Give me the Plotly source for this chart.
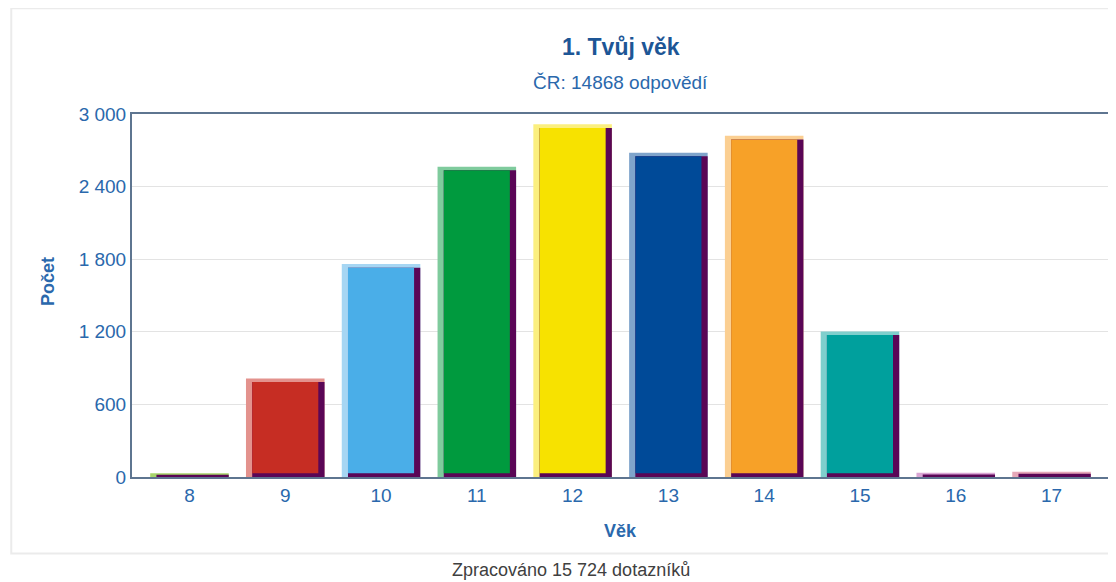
import numpy as np
import plotly.graph_objects as go

# data
ages = ["8", "9", "10", "11", "12", "13", "14", "15", "16", "17"]
counts = [30, 815, 1760, 2565, 2915, 2680, 2820, 1203, 36, 44]

main_colors = ["#7DBB2E", "#C62D23", "#4AAEE8", "#009A3E", "#F7E200",
               "#004A98", "#F7A128", "#00A09D", "#7A1070", "#6E0F3E"]
light_colors = ["#A6D46A", "#E3928D", "#A6D6F3", "#7FCB9D", "#FBEF7F",
                "#7FA4CB", "#FBCF92", "#7FCFCD", "#D9A6D4", "#E5A8B8"]
SHADE = "#5A0656"

title = "1. Tvůj věk"
subtitle = "ČR: 14868 odpovědí"
footer = "Zpracováno 15 724 dotazníků"

FONT = "Liberation Sans, Arial, sans-serif"
BLUE = "#2A68AC"

# 3D-ish bar edges (bar width in categories, edges in data units)
W = 0.82
SIDE = 0.065
TOP = 30
BOTTOM = 30

vals = np.array(counts, dtype=float)
shade_h = np.maximum(vals - TOP, vals * 0.6)
main_h = np.clip(vals - TOP - BOTTOM, 0, None)

fig = go.Figure()
# light highlight (left/top edge)
fig.add_bar(x=ages, y=vals, width=W, offset=-W / 2,
            marker_color=light_colors, marker_line_width=0, hoverinfo="skip")
# dark shade (right/bottom edge)
fig.add_bar(x=ages, y=shade_h, width=W - SIDE, offset=-W / 2 + SIDE,
            marker_color=SHADE, marker_line_width=0, hoverinfo="skip")
# main face
fig.add_bar(x=ages, y=main_h, base=BOTTOM, width=W - 2 * SIDE,
            offset=-W / 2 + SIDE, marker_color=main_colors,
            marker_line_width=0, customdata=counts,
            hovertemplate="%{x}: %{customdata}<extra></extra>")


def note(text, x, y, size, color, **kw):
    return dict(text=text, x=x, y=y, xref="paper", yref="paper",
                xanchor="center", yanchor="middle", showarrow=False,
                font=dict(size=size, color=color), **kw)


annotations = [
    note(f"<b>{title}</b>", 0.5, 1.185, 23, "#1D5696"),
    note(subtitle, 0.5, 1.087, 19, BLUE),
    note("<b>Počet</b>", -0.086, 0.54, 18, BLUE, textangle=-90),
    note("<b>Věk</b>", 0.5, -0.15, 18, BLUE),
    note(footer, 0.4494, -0.255, 18, "#404040"),
]

# page body has an 8px margin, so the figure is 8px smaller than the window
fig.update_layout(
    width=1108,
    height=574,
    margin=dict(l=124, r=5, t=106, b=105),
    barmode="overlay",
    showlegend=False,
    paper_bgcolor="white",
    plot_bgcolor="white",
    separators=", ",
    font=dict(family=FONT, size=19, color=BLUE),
    annotations=annotations,
    shapes=[dict(type="rect", xref="paper", yref="paper",
                 x0=-0.1236, x1=1.01, y0=-0.2105, y1=1.2916,
                 line=dict(color="#EBEBEB", width=2), layer="below")],
    xaxis=dict(type="category", range=[-0.6, 9.6], showgrid=False,
               showline=True, linecolor="#5E7590", linewidth=2, mirror=True,
               ticks="", tickfont=dict(size=19, color=BLUE)),
    yaxis=dict(range=[0, 3000], dtick=600, separatethousands=True,
               showgrid=True, gridcolor="#E3E3E3", gridwidth=1,
               showline=True, linecolor="#5E7590", linewidth=2, mirror=True,
               zeroline=False, ticks="", tickfont=dict(size=19, color=BLUE)),
)

fig.write_html("out.html")
